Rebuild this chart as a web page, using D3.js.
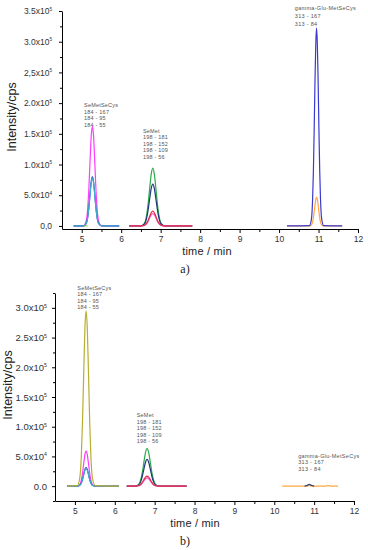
<!DOCTYPE html>
<meta charset="utf-8">
<style>
body {
  margin: 0;
  background: #fff;
  font-family: "Liberation Sans", Arial, sans-serif;
}
.axis path, .axis line {
  stroke: #000;
  stroke-width: 1;
}
.axis text {
  fill: #333;
}
.trace {
  fill: none;
  stroke-width: 1.2;
}
.note {
  fill: #555;
  font-size: 5.5px;
}
</style>
<body>
<script src="https://d3js.org/d3.v7.min.js"></script>
<script>

var width = 368,
    height = 550;

// shared ticks
var xTicks = [5, 6, 7, 8, 9, 10, 11, 12];
var xMinor = [5.5, 6.5, 7.5, 8.5, 9.5, 10.5, 11.5];
var yTicksA = [0, 50000, 100000, 150000, 200000, 250000, 300000, 350000];
var yLabelsA = ["0,0", "5.0x10", "1.0x10", "1.5x10", "2.0x10", "2,5x10", "3.0x10", "3.5x10"];
var yTicksB = [0, 50000, 100000, 150000, 200000, 250000, 300000];
var yLabelsB = ["0.0", "5.0x10", "1.0x10", "1.5x10", "2.0x10", "2.5x10", "3.0x10"];
var yExp = ["", "4", "5", "5", "5", "5", "5", "5"];
var yMinorA = [25000, 75000, 125000, 175000, 225000, 275000, 325000];
var yMinorB = [-25000, 25000, 75000, 125000, 175000, 225000, 275000, 325000];

// panel a) SeMetSeCys (184 -> 167 / 95 / 55)
var timesA_cys = [4.8, 5.05, 5.11, 5.15, 5.18, 5.21, 5.24, 5.27, 5.30, 5.33, 5.36, 5.39, 5.43, 5.5, 5.95];
var a_cys_167 = [0, 500, 7300, 27500, 60000, 104500, 146000, 162000, 146000, 104500, 60000, 27500, 7300, 500, 0];
var a_cys_95 = [0, 200, 3600, 13600, 29600, 51600, 72000, 80000, 72000, 51600, 29600, 13600, 3600, 200, 0];
var a_cys_55 = [0, 200, 3500, 13300, 28900, 50300, 70200, 78000, 70200, 50300, 28900, 13300, 3500, 200, 0];
var timesA_base = [4.78, 5.15];
var a_base = [0, 0];

// panel a) SeMet (198 -> 181 / 152 / 109 / 56)
var timesA_met = [6.2, 6.5, 6.59, 6.64, 6.68, 6.72, 6.76, 6.8, 6.84, 6.88, 6.92, 6.96, 7.01, 7.1, 7.8];
var a_met_181 = [0, 200, 4400, 16000, 34800, 60200, 84100, 94000, 84100, 60200, 34800, 16000, 4400, 200, 0];
var a_met_152 = [0, 140, 3200, 11600, 25200, 43500, 60900, 68000, 60900, 43500, 25200, 11600, 3200, 140, 0];
var a_met_109 = [0, 50, 1100, 4100, 8900, 15400, 21500, 24000, 21500, 15400, 8900, 4100, 1100, 50, 0];
var a_met_56 = [0, 40, 940, 3400, 7400, 12800, 17900, 20000, 17900, 12800, 7400, 3400, 940, 40, 0];

// panel a) gamma-Glu-MetSeCys (313 -> 167 / 84)
var timesA_glu = [10.2, 10.77, 10.82, 10.85, 10.87, 10.89, 10.91, 10.93, 10.95, 10.97, 10.99, 11.01, 11.03, 11.05, 11.08, 11.13, 11.6];
var a_glu_167 = [0, 500, 11000, 43500, 90000, 158000, 235000, 296000, 322000, 296000, 235000, 158000, 90000, 43500, 11000, 500, 0];
var a_glu_84 = [0, 70, 1600, 6300, 13200, 23000, 34300, 43200, 47000, 43200, 34300, 23000, 13200, 6300, 1600, 70, 0];

// panel b) SeMetSeCys
var timesB_cys = [4.8, 5.06, 5.12, 5.16, 5.19, 5.22, 5.25, 5.28, 5.31, 5.34, 5.37, 5.40, 5.44, 5.51, 6.1];
var b_cys_olive = [0, 900, 13300, 50200, 109000, 190000, 265500, 295000, 265500, 190000, 109000, 50200, 13300, 900, 0];
var b_cys_167 = [0, 180, 2650, 10000, 21800, 38100, 53100, 59000, 53100, 38100, 21800, 10000, 2650, 180, 0];
var b_cys_95 = [0, 90, 1400, 5300, 11500, 20000, 27900, 31000, 27900, 20000, 11500, 5300, 1400, 90, 0];
var b_cys_55 = [0, 90, 1300, 5000, 11000, 19000, 26500, 29500, 26500, 19000, 11000, 5000, 1300, 90, 0];

// panel b) SeMet
var timesB_met = [6.3, 6.51, 6.60, 6.65, 6.69, 6.73, 6.77, 6.81, 6.85, 6.89, 6.93, 6.97, 7.02, 7.11, 7.8];
var b_met_181 = [0, 130, 2960, 10700, 23300, 40300, 56400, 63000, 56400, 40300, 23300, 10700, 2960, 130, 0];
var b_met_152 = [0, 90, 2100, 7650, 16650, 28800, 40300, 45000, 40300, 28800, 16650, 7650, 2100, 90, 0];
var b_met_109 = [0, 35, 800, 2900, 6300, 10900, 15200, 17000, 15200, 10900, 6300, 2900, 800, 35, 0];
var b_met_56 = [0, 30, 650, 2400, 5200, 9000, 12500, 14000, 12500, 9000, 5200, 2400, 650, 30, 0];

// panel b) gamma-Glu-MetSeCys
var timesB_glu84 = [10.2, 10.78, 10.84, 10.88, 10.92, 10.98, 11.25, 11.31, 11.35, 11.39, 11.45, 11.6];
var b_glu_84 = [0, 0, 400, 1200, 400, 0, 0, 300, 900, 300, 0, 0];
var timesB_glu167 = [10.76, 10.82, 10.88, 10.94, 11.0];
var b_glu_167 = [0, 1000, 3200, 1000, 0];

var notesCys = ["SeMetSeCys", "184 - 167", "184 - 95", "184 - 55"];
var notesMet = ["SeMet", "198 - 181", "198 - 152", "198 - 109", "198 - 56"];
var notesGlu = ["gamma-Glu-MetSeCys", "313 - 167", "313 - 84"];

var svg = d3.select("body").append("svg")
    .attr("width", width)
    .attr("height", height);

function zip(t, v) {
  return t.map(function(d, i) { return [d, v[i]]; });
}

function drawPanel(p) {
  var x = d3.scaleLinear().domain([4.5, 12]).range(p.xr);
  var y = d3.scaleLinear().domain(p.yd).range(p.yr);
  var g = svg.append("g");

  var line = d3.line()
      .curve(d3.curveMonotoneX)
      .x(function(d) { return x(d[0]); })
      .y(function(d) { return y(d[1]); });

  g.selectAll(".trace")
      .data(p.traces)
    .enter().append("path")
      .attr("class", "trace")
      .attr("stroke", function(d) { return d.c; })
      .attr("d", function(d) { return line(zip(d.t, d.v)); });

  // x axis
  g.append("g")
      .attr("class", "axis")
      .attr("transform", "translate(0," + y.range()[0] + ")")
      .call(d3.axisBottom(x).tickValues(xTicks).tickSize(4).tickSizeOuter(0).tickPadding(3))
      .selectAll("text").attr("font-size", 8.5);
  g.append("g")
      .attr("class", "axis")
      .attr("transform", "translate(0," + y.range()[0] + ")")
      .call(d3.axisBottom(x).tickValues(xMinor).tickSize(3).tickFormat(""))
      .select(".domain").remove();

  // y axis
  var ya = g.append("g")
      .attr("class", "axis")
      .attr("transform", "translate(" + x.range()[0] + ",0)")
      .call(d3.axisLeft(y).tickValues(p.yt).tickSize(3).tickSizeOuter(0).tickPadding(p.pad)
        .tickFormat(function(d, i) { return p.yl[i]; }));
  ya.selectAll("text")
      .attr("font-size", p.fs)
      .each(function(d, i) {
        if (yExp[i]) {
          d3.select(this).append("tspan")
              .attr("dy", "-3.5")
              .attr("font-size", p.fs * 0.55)
              .text(yExp[i]);
        }
      });
  g.append("g")
      .attr("class", "axis")
      .attr("transform", "translate(" + x.range()[0] + ",0)")
      .call(d3.axisLeft(y).tickValues(p.ym).tickSize(2).tickFormat(""))
      .select(".domain").remove();

  // notes
  p.notes.forEach(function(n) {
    g.append("g")
        .selectAll("text")
        .data(n.lines)
      .enter().append("text")
        .attr("class", "note")
        .attr("font-size", n.fs)
        .attr("letter-spacing", n.ls)
        .attr("x", x(n.t))
        .attr("y", function(d, i) { return y(n.v) + i * n.dy; })
        .text(function(d) { return d; });
  });

  g.append("text")
      .attr("transform", "translate(" + p.yLab[0] + "," + p.yLab[1] + ") rotate(-90)")
      .attr("text-anchor", "middle")
      .attr("font-size", 12.5)
      .attr("fill", "#222")
      .text("Intensity/cps");

  g.append("text")
      .attr("x", p.xLab[0])
      .attr("y", p.xLab[1])
      .attr("text-anchor", "middle")
      .attr("font-size", 11)
      .attr("letter-spacing", 0.2)
      .attr("fill", "#222")
      .text("time / min");

  g.append("text")
      .attr("x", 185)
      .attr("y", p.tag[1])
      .attr("text-anchor", "middle")
      .attr("font-family", "Liberation Serif, serif")
      .attr("font-size", 12)
      .attr("fill", "#222")
      .text(p.tag[0]);
}

drawPanel({
  xr: [62, 358],
  yd: [-5000, 350000],
  yr: [229, 11],
  yt: yTicksA, yl: yLabelsA, ym: yMinorA,
  fs: 8.5, pad: 7,
  yLab: [16, 117], xLab: [207, 255], tag: ["a)", 273],
  traces: [
    {t: timesA_base, v: a_base, c: "#c8c040"},
    {t: timesA_cys, v: a_cys_167, c: "#ff3cff"},
    {t: timesA_cys, v: a_cys_95, c: "#3a3ad0"},
    {t: timesA_cys, v: a_cys_55, c: "#3cb0c8"},
    {t: timesA_met, v: a_met_181, c: "#2aaa4a"},
    {t: timesA_met, v: a_met_152, c: "#1e3a7a"},
    {t: timesA_met, v: a_met_56, c: "#ff50c8"},
    {t: timesA_met, v: a_met_109, c: "#e0304a"},
    {t: timesA_glu, v: a_glu_84, c: "#ffa840"},
    {t: timesA_glu, v: a_glu_167, c: "#3a3ad0"}
  ],
  notes: [
    {lines: notesCys, t: 5.06, v: 193000, dy: 6.5, fs: 5.5, ls: 0.2},
    {lines: notesMet, t: 6.55, v: 152000, dy: 6.6, fs: 5.5, ls: 0.2},
    {lines: notesGlu, t: 10.4, v: 352000, dy: 8, fs: 6, ls: 0.3}
  ]
});

drawPanel({
  xr: [55, 354],
  yd: [-25000, 325000],
  yr: [501, 293],
  yt: yTicksB, yl: yLabelsB, ym: yMinorB,
  fs: 9.5, pad: 5,
  yLab: [12, 385], xLab: [195, 527], tag: ["b)", 545],
  traces: [
    {t: timesB_cys, v: b_cys_167, c: "#ff3cff"},
    {t: timesB_cys, v: b_cys_95, c: "#3a3ad0"},
    {t: timesB_cys, v: b_cys_55, c: "#3cb0c8"},
    {t: timesB_cys, v: b_cys_olive, c: "#b8ae30"},
    {t: timesB_met, v: b_met_181, c: "#2aaa4a"},
    {t: timesB_met, v: b_met_152, c: "#1e3a7a"},
    {t: timesB_met, v: b_met_56, c: "#ff50c8"},
    {t: timesB_met, v: b_met_109, c: "#e0304a"},
    {t: timesB_glu84, v: b_glu_84, c: "#ffa840"},
    {t: timesB_glu167, v: b_glu_167, c: "#1e3a7a"}
  ],
  notes: [
    {lines: notesCys, t: 5.06, v: 330000, dy: 6.4, fs: 5.5, ls: 0.2},
    {lines: notesMet, t: 6.55, v: 116000, dy: 6.5, fs: 5.5, ls: 0.2},
    {lines: notesGlu, t: 10.6, v: 48000, dy: 6.5, fs: 5.5, ls: 0.3}
  ]
});

</script>
